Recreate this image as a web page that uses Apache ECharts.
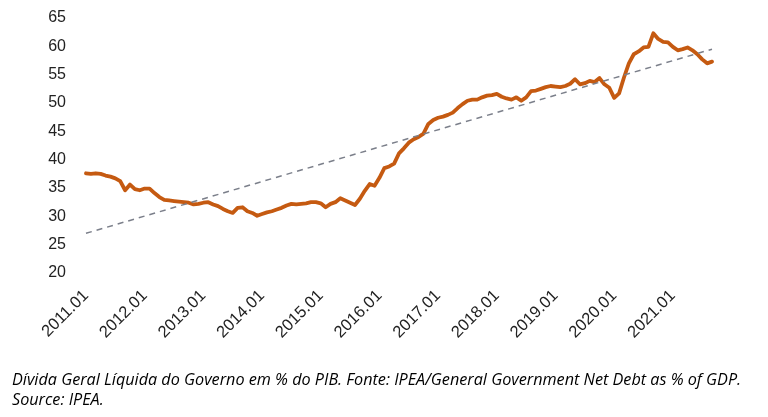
<!DOCTYPE html>
<html>
<head>
<meta charset="utf-8">
<script src="https://cdn.jsdelivr.net/npm/echarts@6/dist/echarts.min.js"></script>
<style>
html,body{margin:0;padding:0;background:#fff;}
#chart{width:768px;height:417px;}
</style>
</head>
<body>
<div id="chart"></div>
<script>
// Monthly categories 2011.01 .. 2021.09
const startYear = 2011;
const monthCount = 129;
const categories = [];
for (let i = 0; i < monthCount; i++) {
  const y = startYear + Math.floor(i / 12);
  const m = (i % 12) + 1;
  categories.push(y + '.' + (m < 10 ? '0' + m : m));
}

// Net general government debt, % of GDP
const debtValues = [
  37.6, 37.5, 37.6, 37.5, 37.2, 37.0, 36.7, 36.2, 34.6, 35.6, 34.8, 34.6,
  34.9, 34.9, 34.1, 33.4, 32.9, 32.8, 32.7, 32.6, 32.5, 32.4, 32.1, 32.2,
  32.4, 32.5, 32.1, 31.8, 31.3, 30.9, 30.6, 31.5, 31.6, 30.9, 30.6, 30.1,
  30.4, 30.7, 30.9, 31.2, 31.5, 31.9, 32.2, 32.1, 32.2, 32.3, 32.5, 32.5,
  32.3, 31.6, 32.2, 32.5, 33.2, 32.8, 32.4, 32.0, 33.1, 34.5, 35.7, 35.4,
  36.8, 38.5, 38.8, 39.3, 41.1, 42.0, 43.0, 43.6, 44.0, 44.6, 46.3, 47.0,
  47.4, 47.6, 47.9, 48.3, 49.1, 49.8, 50.4, 50.6, 50.6, 51.0, 51.3, 51.4,
  51.6, 51.1, 50.8, 50.6, 51.0, 50.4, 51.0, 52.1, 52.2, 52.5, 52.8, 53.0,
  52.9, 52.8, 53.0, 53.4, 54.2, 53.3, 53.5, 53.9, 53.7, 54.4, 53.3, 52.7,
  50.9, 51.7, 54.5, 57.0, 58.6, 59.1, 59.8, 59.9, 62.3, 61.3, 60.8, 60.7,
  59.9, 59.3, 59.5, 59.8, 59.3, 58.6, 57.7, 57.0, 57.3
];

// Linear trend endpoints
const trendStart = 27.0;
const trendEnd = 59.5;

// Y-axis ticks
const yMin = 20, yMax = 65, yStep = 5;

const captionPt = 'Dívida Geral Líquida do Governo em % do PIB. Fonte: IPEA/';
const captionEn1 = 'General Government Net Debt as % of GDP.';
const captionEn2 = 'Source: IPEA.';

const chart = echarts.init(document.getElementById('chart'), null, {renderer: 'canvas'});
chart.setOption({
  backgroundColor: '#ffffff',
  animation: false,
  grid: {left: 86, right: 56, top: 18, bottom: 144, containLabel: false},
  xAxis: {
    type: 'category',
    data: categories,
    boundaryGap: false,
    axisLine: {show: false},
    axisTick: {show: false},
    splitLine: {show: false},
    axisLabel: {
      interval: 11,
      rotate: 45,
      margin: 20,
      fontSize: 16.5,
      color: '#222',
      fontFamily: 'Liberation Sans, Arial, sans-serif'
    }
  },
  yAxis: {
    type: 'value',
    min: yMin, max: yMax, interval: yStep,
    axisLine: {show: false},
    axisTick: {show: false},
    splitLine: {show: false},
    axisLabel: {
      margin: 20,
      fontSize: 16,
      color: '#222',
      fontFamily: 'Liberation Sans, Arial, sans-serif'
    }
  },
  series: [{
    type: 'line',
    data: debtValues,
    showSymbol: false,
    symbol: 'none',
    lineStyle: {color: '#c55a11', width: 3.8, join: 'round', cap: 'round'},
    markLine: {
      silent: true,
      symbol: ['none', 'none'],
      label: {show: false},
      lineStyle: {color: '#7b7f8a', type: [6, 5], width: 1.5},
      data: [[
        {coord: [categories[0], trendStart]},
        {coord: [categories[categories.length - 1], trendEnd]}
      ]]
    },
    z: 3
  }],
  graphic: [{
    type: 'text',
    left: 12,
    top: 372,
    style: {
      text: '{a|' + captionPt + '}{b|' + captionEn1 + '}\n{b|' + captionEn2 + '}',
      rich: {
        a: {fontFamily: 'Open Sans', fontStyle: 'italic', fontSize: 16.2, color: '#1a1a1a', lineHeight: 20},
        b: {fontFamily: 'Open Sans', fontStyle: 'italic', fontSize: 16.2, color: '#5b6577', lineHeight: 20}
      }
    }
  }]
});
</script>
</body>
</html>
